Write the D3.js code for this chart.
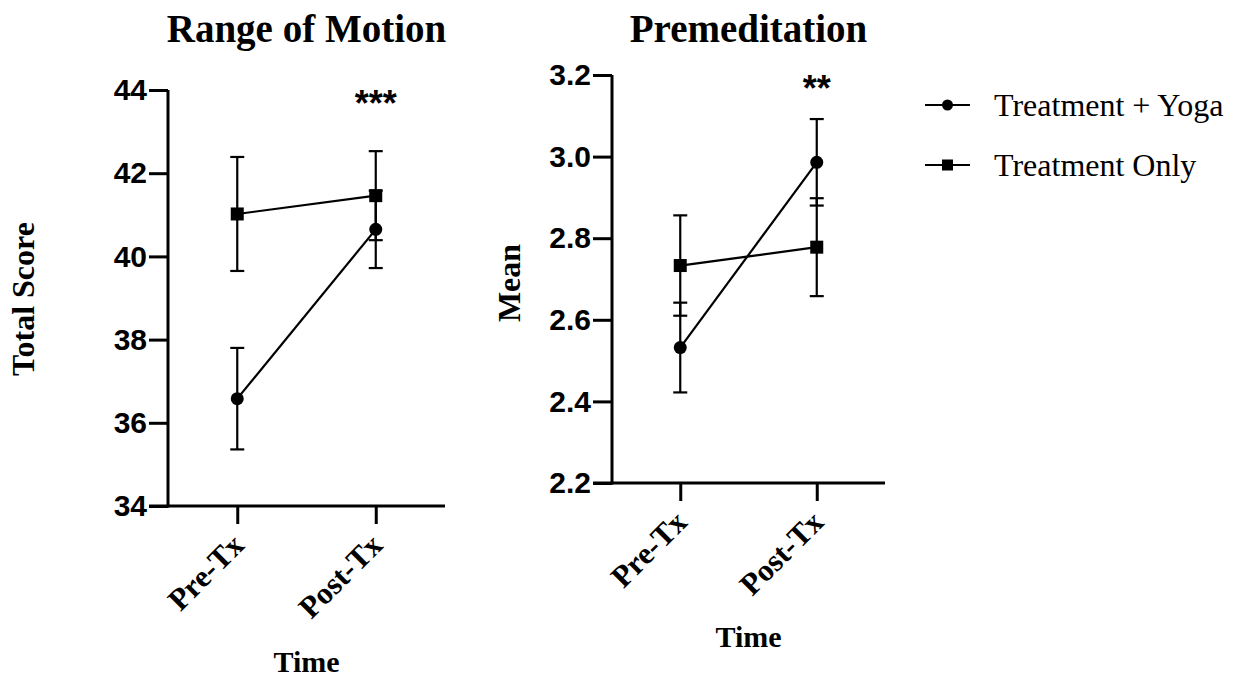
<!DOCTYPE html>
<html>
<head>
<meta charset="utf-8">
<script src="https://cdn.jsdelivr.net/npm/d3@7"></script>
<style>
  html, body { margin: 0; padding: 0; background: #fff; }
  svg { display: block; }
</style>
</head>
<body>
<svg id="chart" width="1237" height="679"></svg>
<script>
// ---- data ----
const times = ["Pre-Tx", "Post-Tx"];
const seriesNames = ["Treatment + Yoga", "Treatment Only"];

// Range of Motion (Total Score)
const romYogaMean = [36.58, 40.65];
const romYogaErr  = [1.22, 0.93];
const romOnlyMean = [41.02, 41.46];
const romOnlyErr  = [1.37, 1.07];
const romTicks = [34, 36, 38, 40, 42, 44];

// Premeditation (Mean)
const preYogaMean = [2.532, 2.986];
const preYogaErr  = [0.110, 0.106];
const preOnlyMean = [2.733, 2.778];
const preOnlyErr  = [0.123, 0.120];
const preTicks = [2.2, 2.4, 2.6, 2.8, 3.0, 3.2];

const svg = d3.select("#chart");
const SERIF = "'Liberation Serif', 'Times New Roman', serif";
const SANS = "'Liberation Sans', Arial, sans-serif";

function panel(opt) {
  const g = svg.append("g");
  const x = d3.scalePoint().domain(times).range([opt.x0, opt.x1]).padding(0.5);
  const y = d3.scaleLinear().domain(opt.domain).range([opt.y0, opt.y1]);

  // y axis
  const ya = g.append("g").attr("transform", `translate(${opt.x0},0)`)
    .call(d3.axisLeft(y).tickValues(opt.ticks).tickFormat(d3.format(opt.fmt))
      .tickSize(19).tickSizeOuter(0).tickPadding(2));
  ya.select(".domain").attr("stroke", "#000").attr("stroke-width", 3)
    .attr("d", `M0,${opt.y0 + 1.5}V${opt.y1}`);
  ya.selectAll(".tick line").attr("stroke", "#000").attr("stroke-width", 3);
  ya.selectAll(".tick text").attr("fill", "#000")
    .style("font-family", SANS).style("font-weight", "bold").style("font-size", "30px");

  // x axis
  const xa = g.append("g").attr("transform", `translate(0,${opt.y0})`)
    .call(d3.axisBottom(x).tickSize(18).tickSizeOuter(0).tickFormat(""));
  xa.select(".domain").attr("stroke", "#000").attr("stroke-width", 3)
    .attr("d", `M${opt.x0 - 19},0H${opt.x1}`);
  xa.selectAll(".tick line").attr("stroke", "#000").attr("stroke-width", 3);
  xa.selectAll(".tick").append("text")
    .attr("fill", "#000")
    .attr("text-anchor", "end")
    .attr("transform", "translate(8,41) rotate(-45)")
    .style("font-family", SERIF).style("font-weight", "bold").style("font-size", "31px")
    .text(d => d);

  // titles
  g.append("text").attr("x", (opt.x0 + opt.x1) / 2).attr("y", 42)
    .attr("text-anchor", "middle")
    .style("font-family", SERIF).style("font-weight", "bold").style("font-size", "39px")
    .text(opt.title);
  g.append("text").attr("x", (opt.x0 + opt.x1) / 2).attr("y", opt.y0 + opt.timeDy)
    .attr("text-anchor", "middle")
    .style("font-family", SERIF).style("font-weight", "bold").style("font-size", "30px")
    .text("Time");
  g.append("text")
    .attr("transform", `translate(${opt.ylabX},${opt.ylabY}) rotate(-90)`)
    .attr("text-anchor", "middle")
    .style("font-family", SERIF).style("font-weight", "bold").style("font-size", "32px")
    .text(opt.ylabel);

  // series
  const series = [
    { mean: opt.yogaMean, err: opt.yogaErr, shape: "circle" },
    { mean: opt.onlyMean, err: opt.onlyErr, shape: "square" }
  ];
  const cap = 7;
  series.forEach(s => {
    const pts = times.map((t, i) => ({ t, m: s.mean[i], e: s.err[i] }));
    // error bars
    const eb = g.append("g").attr("stroke", "#000").attr("stroke-width", 2.2);
    pts.forEach(p => {
      const cx = x(p.t);
      eb.append("line").attr("x1", cx).attr("x2", cx).attr("y1", y(p.m - p.e)).attr("y2", y(p.m + p.e));
      eb.append("line").attr("x1", cx - cap).attr("x2", cx + cap).attr("y1", y(p.m - p.e)).attr("y2", y(p.m - p.e));
      eb.append("line").attr("x1", cx - cap).attr("x2", cx + cap).attr("y1", y(p.m + p.e)).attr("y2", y(p.m + p.e));
    });
    g.append("path").datum(pts)
      .attr("fill", "none").attr("stroke", "#000").attr("stroke-width", 2.2)
      .attr("d", d3.line().x(p => x(p.t)).y(p => y(p.m)));
    pts.forEach(p => {
      if (s.shape === "circle") {
        g.append("circle").attr("cx", x(p.t)).attr("cy", y(p.m)).attr("r", 6.5).attr("fill", "#000");
      } else {
        g.append("rect").attr("x", x(p.t) - 6.5).attr("y", y(p.m) - 6.5)
          .attr("width", 13).attr("height", 13).attr("fill", "#000");
      }
    });
  });

  // significance
  g.append("text").attr("x", x(times[1])).attr("y", opt.starY)
    .attr("text-anchor", "middle")
    .style("font-family", SANS).style("font-weight", "bold").style("font-size", "36px")
    .text(opt.stars);
}

panel({
  x0: 168, x1: 445, y0: 506, y1: 90, domain: [34, 44], ticks: romTicks, fmt: "d",
  title: "Range of Motion", ylabel: "Total Score", ylabX: 34, ylabY: 299, timeDy: 166,
  yogaMean: romYogaMean, yogaErr: romYogaErr, onlyMean: romOnlyMean, onlyErr: romOnlyErr,
  stars: "***", starY: 116
});
panel({
  x0: 612, x1: 885, y0: 483, y1: 75, domain: [2.2, 3.2], ticks: preTicks, fmt: ".1f",
  title: "Premeditation", ylabel: "Mean", ylabX: 520, ylabY: 283, timeDy: 164,
  yogaMean: preYogaMean, yogaErr: preYogaErr, onlyMean: preOnlyMean, onlyErr: preOnlyErr,
  stars: "**", starY: 101
});

// legend
const lg = svg.append("g");
seriesNames.forEach((name, i) => {
  const ly = 105 + i * 60;
  lg.append("line").attr("x1", 925).attr("x2", 970).attr("y1", ly).attr("y2", ly)
    .attr("stroke", "#000").attr("stroke-width", 2.2);
  if (i === 0) lg.append("circle").attr("cx", 947.5).attr("cy", ly).attr("r", 5.5).attr("fill", "#000");
  else lg.append("rect").attr("x", 942).attr("y", ly - 5.5).attr("width", 11).attr("height", 11).attr("fill", "#000");
  lg.append("text").attr("x", 994).attr("y", ly + 11)
    .style("font-family", SERIF).style("font-size", "32px").attr("fill", "#000")
    .text(name);
});
</script>
</body>
</html>
